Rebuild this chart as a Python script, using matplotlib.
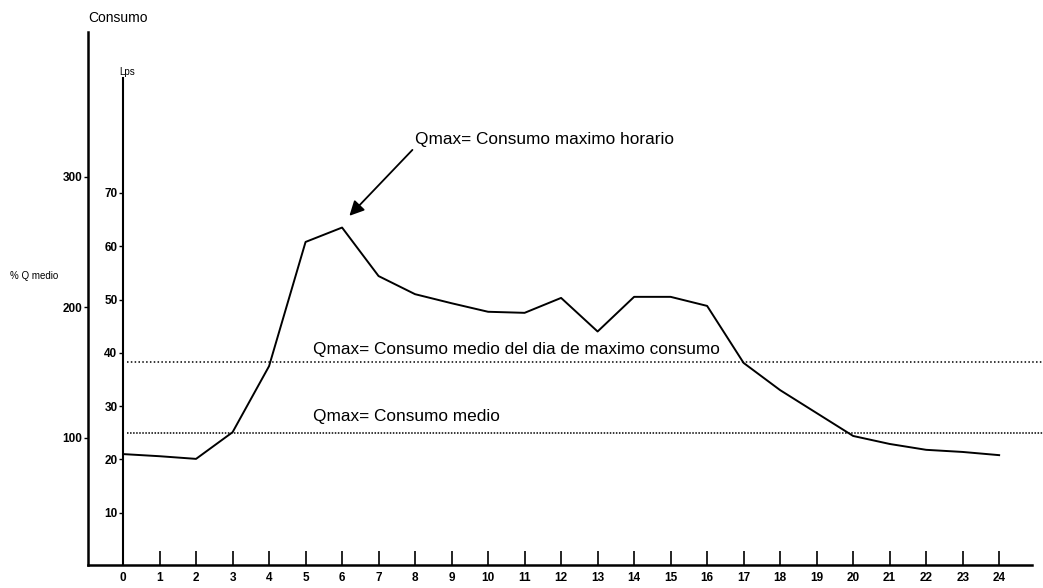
import matplotlib
matplotlib.use("Agg")
import matplotlib.pyplot as plt
from matplotlib import font_manager

# ---- data ----
hours = list(range(0, 25))
lps = [21.0, 20.6, 20.1, 25.1, 37.5, 60.8, 63.5, 54.4, 51.0, 49.3, 47.7, 47.5,
       50.3, 44.0, 50.5, 50.5, 48.8, 38.1, 33.0, 28.7, 24.4, 22.9, 21.8, 21.4, 20.8]
x_ticks = list(range(0, 25))
lps_ticks = [10, 20, 30, 40, 50, 60, 70]
pct_ticks = [100, 200, 300]
q_medio_dia_max = 38.3
q_medio = 24.9

names = {f.name for f in font_manager.fontManager.ttflist}
FAM = ['Liberation Sans Narrow', 'Liberation Sans', 'DejaVu Sans'] if 'Liberation Sans Narrow' in names else ['Liberation Sans', 'DejaVu Sans']

W, H = 1043, 588
fig = plt.figure(figsize=(W / 100, H / 100), dpi=100)

def px(l, b, r, t):
    return [l / W, 1 - b / H, (r - l) / W, (b - t) / H]

pos = px(88, 565, 1032, 32)
ax = fig.add_axes(pos)
ax_in = fig.add_axes(pos)
ax_in.patch.set_alpha(0)

xmin, xmax = -0.96, 24.9
ax.set_xlim(xmin, xmax)
ax_in.set_xlim(xmin, xmax)

# outer axis (% Q medio)
ax.set_ylim(2.3, 2.3 + 533 / 1.305)
for s in ['top', 'right']:
    ax.spines[s].set_visible(False)
ax.spines['left'].set_linewidth(1.8)
ax.spines['bottom'].set_linewidth(1.8)
ax.set_yticks(pct_ticks)
ax.set_yticklabels([str(v) for v in pct_ticks], family=FAM, fontsize=8.5, fontweight='bold')
ax.tick_params(axis='y', direction='out', length=3, width=1, pad=1)
ax.set_xticks(x_ticks)
ax.set_xticklabels([str(v) for v in x_ticks], family=FAM, fontsize=8.5, fontweight='bold')
ax.tick_params(axis='x', direction='in', length=10, width=1.2, pad=5)

# inner axis (Lps)
ax_in.set_ylim(0.19, 0.19 + 533 / 5.33)
for s in ['top', 'right', 'bottom']:
    ax_in.spines[s].set_visible(False)
ax_in.spines['left'].set_position(('data', 0))
ax_in.spines['left'].set_bounds(0.19, 91.6)
ax_in.spines['left'].set_linewidth(1.5)
ax_in.set_xticks([])
ax_in.set_yticks(lps_ticks)
ax_in.set_yticklabels([str(v) for v in lps_ticks], family=FAM, fontsize=8.5, fontweight='bold')
ax_in.tick_params(axis='y', direction='out', length=3, width=1, pad=1)

ax_in.plot(hours, lps, color='black', lw=1.4, clip_on=False)
ax_in.plot([0.1, 25.2], [q_medio_dia_max] * 2, color='black', lw=1.1,
           linestyle=(0, (1, 1.5)), clip_on=False)
ax_in.plot([0.1, 25.2], [q_medio] * 2, color='black', lw=1.1,
           linestyle=(0, (1, 1.0)), clip_on=False)

ax_in.text(5.2, 40.7, 'Qmax= Consumo medio del dia de maximo consumo', family=FAM,
           fontsize=12.4, va='center', ha='left')
ax_in.text(5.2, 28.1, 'Qmax= Consumo medio', family=FAM,
           fontsize=12.4, va='center', ha='left')
ax_in.annotate('Qmax= Consumo maximo horario', xy=(6.2, 65.7), xytext=(8.0, 80.0),
               family=FAM, fontsize=12.4, va='center', ha='left',
               arrowprops=dict(arrowstyle='-|>', color='black', lw=1.3,
                               mutation_scale=22, shrinkA=0, shrinkB=0,
                               relpos=(0.0, 0.0)))

fig.text(88 / W, 1 - 18 / H, 'Consumo', family=FAM, fontsize=10, ha='left', va='center')
fig.text(127 / W, 1 - 72 / H, 'Lps', family=FAM, fontsize=7, ha='center', va='center')
fig.text(10 / W, 1 - 276 / H, '% Q medio', family=FAM, fontsize=7, ha='left', va='center')

fig.savefig('out.png', dpi=100)
